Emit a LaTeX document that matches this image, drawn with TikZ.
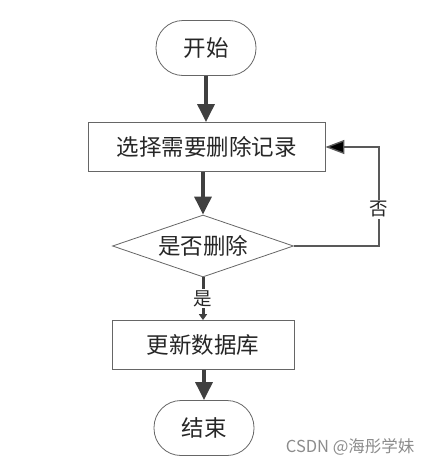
\documentclass[tikz,border=0pt]{standalone}
\usepackage{fontspec}
\newfontfamily\cjk{Noto Sans CJK SC}
\usetikzlibrary{shapes.geometric,arrows.meta}
\begin{document}
\begin{tikzpicture}[x=1pt,y=-1pt,
  font=\cjk\fontsize{22.5}{22.5}\selectfont,
  base/.style={draw=black!60, line width=0.8pt, text=black!85, inner sep=0pt},
  term/.style={base, rectangle, rounded corners=27pt, minimum width=100pt, minimum height=55pt},
  proc/.style={base, rectangle, minimum height=49pt},
  dec/.style={base, diamond, aspect=2.9, minimum width=181pt, minimum height=62pt},
  flow/.style={draw=black!75, line width=3.2pt, -{Triangle[length=18pt,width=17pt]}},
  back/.style={draw=black!65, line width=1.4pt, -{Triangle[length=19pt,width=14pt,fill=black]}},
  lbl/.style={fill=white, inner sep=1.5pt, text=black!85, font=\cjk\fontsize{18.5}{18.5}\selectfont}
]
\useasboundingbox (0,0) rectangle (433,466);
\node[term] (start) at (206,48) {开始};
\node[proc, minimum width=237pt] (sel) at (206.5,147) {选择需要删除记录};
\node[dec] (q) at (203,246) {是否删除};
\node[proc, minimum width=182pt] (upd) at (203,345) {更新数据库};
\node[term] (end) at (204,428) {结束};
\coordinate (c1) at (379,246);
\coordinate (c2) at (379,147);
\draw[flow] (start) -- (sel.north -| start);
\draw[flow] (sel.south -| q.north) -- (q.north);
\draw[draw=black!75, line width=3pt, -{Triangle[length=6pt,width=8pt]}] (q.south) -- node[lbl, pos=0.5] (yes) {是} (upd.north);
\draw[flow] (upd.south -| end) -- (end.north);
\draw[back] (q.east) -- (c1) -- node[lbl, pos=0.37] (no) {否} (c2) -- (sel.east);
\node[text=black!45, font=\fontspec{Noto Sans CJK SC}\fontsize{16.5}{17}\selectfont, anchor=east] (wm) at (418,447) {CSDN @海彤学妹};
\end{tikzpicture}
\end{document}
